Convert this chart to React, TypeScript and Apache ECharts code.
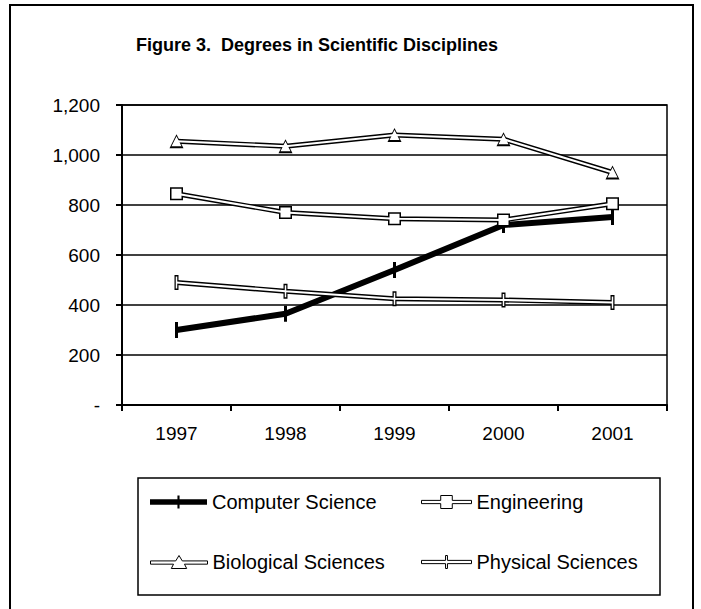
import React, { useEffect, useRef } from "react";
import * as echarts from "echarts";

const years = ["1997", "1998", "1999", "2000", "2001"];
const computerScience = [300, 365, 540, 720, 752];
const engineering = [845, 770, 745, 740, 805];
const biologicalSciences = [1055, 1035, 1080, 1063, 930];
const physicalSciences = [490, 455, 425, 420, 410];
const seriesNames = ["Computer Science", "Engineering", "Biological Sciences", "Physical Sciences"];

const FONT = "'Liberation Sans', Arial, sans-serif";

const iconCS = "path://M0,3.5 L26,3.5 L26,0 L28,0 L28,3.5 L54,3.5 L54,8.5 L28,8.5 L28,12 L26,12 L26,8.5 L0,8.5 Z";
const iconEng = "path://M0,4.5 L20,4.5 L20,0 L32,0 L32,4.5 L52,4.5 L52,7.5 L32,7.5 L32,12 L20,12 L20,7.5 L0,7.5 Z";
const iconBio = "path://M0,5 L23,5 L26,0 L29,5 L52,5 L52,8 L31,8 L33,12 L19,12 L21,8 L0,8 Z";
const iconPhys = "path://M0,4.5 L25,4.5 L25,0 L27,0 L27,4.5 L52,4.5 L52,7.5 L27,7.5 L27,12 L25,12 L25,7.5 L0,7.5 Z";

function hollowPair(name: string, data: number[], symbol: string, outerSize: any, innerSize: any) {
  return [
    {
      name,
      type: "line",
      data,
      symbol,
      symbolSize: outerSize,
      showSymbol: true,
      lineStyle: { color: "#000", width: 5 },
      itemStyle: { color: "#000", borderWidth: 0 },
      z: 3,
    },
    {
      name: name + " ",
      type: "line",
      data,
      symbol,
      symbolSize: innerSize,
      showSymbol: true,
      lineStyle: { color: "#fff", width: 2.2 },
      itemStyle: { color: "#fff", borderWidth: 0 },
      z: 4,
    },
  ];
}

function legendItem(name: string, icon: string, filled: boolean, left: number, top: number, w: number) {
  return {
    data: [
      {
        name,
        icon,
        itemStyle: filled
          ? { color: "#000", borderWidth: 0 }
          : { color: "#fff", borderColor: "#000", borderWidth: 1 },
      },
    ],
    left,
    top,
    padding: 0,
    orient: "horizontal",
    itemWidth: w,
    itemHeight: 13,
    symbolKeepAspect: false,
    textStyle: { fontFamily: FONT, fontSize: 20, color: "#000" },
  };
}

export default function App() {
  const ref = useRef<HTMLDivElement>(null);
  useEffect(() => {
    if (!ref.current) return;
    const chart = echarts.init(ref.current, null, { renderer: "svg" });
    const option: any = {
      animation: false,
      backgroundColor: "#fff",
      title: {
        text: "Figure 3.  Degrees in Scientific Disciplines",
        left: 136,
        top: 36,
        padding: 0,
        textStyle: { fontFamily: FONT, fontSize: 18, fontWeight: "bold", color: "#000" },
      },
      graphic: [
        {
          type: "rect",
          shape: { x: 10, y: 5, width: 683, height: 620 },
          style: { fill: "none", stroke: "#000", lineWidth: 2 },
          silent: true,
        },
        {
          type: "rect",
          shape: { x: 138, y: 478, width: 522, height: 117 },
          style: { fill: "none", stroke: "#000", lineWidth: 1.5 },
          silent: true,
        },
      ],
      legend: [
        legendItem(seriesNames[0], iconCS, true, 150, 492, 57),
        legendItem(seriesNames[1], iconEng, false, 421, 492, 50),
        legendItem(seriesNames[2], iconBio, false, 150, 552, 57),
        legendItem(seriesNames[3], iconPhys, false, 421, 552, 50),
      ],
      grid: {
        left: 122,
        right: 34,
        top: 105,
        bottom: 204,
        show: true,
        borderColor: "#000",
        borderWidth: 1.5,
        backgroundColor: "transparent",
        containLabel: false,
      },
      xAxis: {
        type: "category",
        data: years,
        boundaryGap: true,
        axisLine: { show: true, lineStyle: { color: "#000", width: 2 } },
        axisTick: { show: true, length: 6, lineStyle: { color: "#000", width: 2 } },
        axisLabel: { fontFamily: FONT, fontSize: 19, color: "#000", margin: 19 },
        splitLine: { show: false },
      },
      yAxis: {
        type: "value",
        min: 0,
        max: 1200,
        interval: 200,
        axisLine: { show: true, lineStyle: { color: "#000", width: 2 } },
        axisTick: { show: true, length: 6, lineStyle: { color: "#000", width: 2 } },
        axisLabel: {
          fontFamily: FONT,
          fontSize: 19,
          color: "#000",
          margin: 22,
          formatter: (v: number) => (v === 0 ? "-" : v.toLocaleString("en-US")),
        },
        splitLine: { show: true, lineStyle: { color: "#000", width: 1.5 } },
      },
      series: [
        {
          name: seriesNames[0],
          type: "line",
          data: computerScience,
          symbol: "rect",
          symbolSize: [3, 16],
          showSymbol: true,
          lineStyle: { color: "#000", width: 6 },
          itemStyle: { color: "#000" },
          z: 2,
        },
        ...hollowPair(seriesNames[1], engineering, "rect", 13, 10),
        ...hollowPair(seriesNames[2], biologicalSciences, "triangle", 14, 10),
        ...hollowPair(seriesNames[3], physicalSciences, "rect", [4, 15], [1.5, 12]),
      ],
    };
    chart.setOption(option);
    return () => chart.dispose();
  }, []);
  return (
    <div
      ref={ref}
      style={{ position: "fixed", left: 0, top: 0, width: 701, height: 609, background: "#fff" }}
    />
  );
}
